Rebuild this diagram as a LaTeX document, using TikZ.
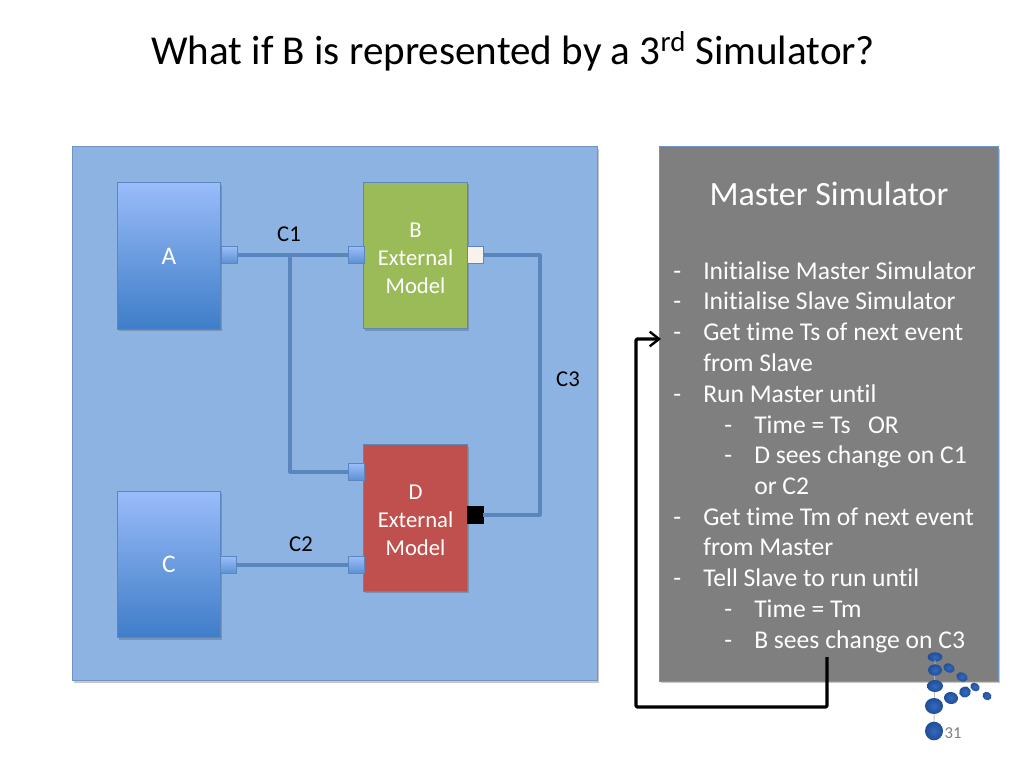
\documentclass[tikz,border=0pt]{standalone}
\usepackage{fontspec}
\setmainfont{Carlito}[Ligatures=NoCommon]
\usetikzlibrary{shadows,arrows.meta,shapes.geometric}
\definecolor{panelblue}{HTML}{8DB3E2}
\definecolor{paneledge}{HTML}{6F94C4}
\definecolor{wirecol}{HTML}{5A86BE}
\definecolor{greypanel}{HTML}{7F7F7F}
\definecolor{greenbox}{HTML}{9BBB59}
\definecolor{redbox}{HTML}{C0504D}
\definecolor{boxedge}{HTML}{5B87BF}
\definecolor{blueA}{HTML}{9ABCFA}
\definecolor{blueM}{HTML}{6B9CDF}
\definecolor{blueB}{HTML}{3F7DC9}
\definecolor{ballhi}{HTML}{3569BC}
\definecolor{balllo}{HTML}{1F4E98}
\tikzset{
  softshadow/.style={drop shadow={shadow xshift=1pt,shadow yshift=-1.6pt,opacity=.3,fill=black!70}},
  panel/.style={draw=paneledge,line width=.8pt,inner sep=0pt,softshadow},
  block/.style={draw=boxedge,line width=.8pt,inner sep=0pt,softshadow,minimum width=77.5pt,minimum height=110pt,text=white,font=\fontsize{17}{21}\selectfont,align=center},
  bluegrad/.style={top color=blueA,bottom color=blueB,middle color=blueM,font=\fontsize{19}{21}\selectfont},
  portbox/.style={draw=boxedge,line width=.6pt,inner sep=0pt,minimum width=12pt,minimum height=12.6pt,top color=blueA,bottom color=blueB!85!white},
  wire/.style={draw=wirecol,line width=2.3pt,line join=round},
  label/.style={inner sep=0pt,text=black,font=\fontsize{17}{20}\selectfont},
  item/.style={inner sep=0pt,anchor=base west,text=white,font=\fontsize{19.2}{22}\selectfont},
  ball/.style={inner color=ballhi,outer color=balllo,draw=none,shape=ellipse,inner sep=0pt},
  feedback/.style={draw=black,line width=2.5pt,line join=round,rounded corners=1pt,-{Straight Barb[length=7pt,width=11pt,line width=1.8pt]}}
}
\begin{document}
\begin{tikzpicture}[x=.75pt,y=-.75pt]
\useasboundingbox (0,0) rectangle (1024,768);
\fill[white] (0,0) rectangle (1024,768);
\node[anchor=base west,inner sep=0pt,text=black,font=\fontsize{30.8}{34}\selectfont] (title) at (151,64) {What if B is represented by a 3\textsuperscript{rd} Simulator?};
\node[panel,fill=panelblue,minimum width=393.8pt,minimum height=400.5pt] (blue) at (335,413.5) {};
\node[panel,fill=greypanel,minimum width=254pt,minimum height=401pt] (master) at (829,414) {};

\node[block,bluegrad] (A) at (169,256) {A};
\node[block,bluegrad] (C) at (169,564.5) {C};
\node[block,fill=greenbox] (B) at (415.5,255.5) {\rule{0pt}{15pt}B\\External\\Model};
\node[block,fill=redbox] (D) at (415.5,518) {\rule{0pt}{15pt}D\\External\\Model};

\node[portbox] (pA) at (229,255) {};
\node[portbox] (pBl) at (356,255) {};
\node[portbox,top color=white!90!brown,bottom color=white!90!brown] (pBr) at (475,255) {};
\node[portbox] (pDt) at (356,472) {};
\node[portbox] (pDb) at (356,565) {};
\node[portbox,draw=black,top color=black,bottom color=black] (pDr) at (475,515) {};
\node[portbox] (pC) at (228,565) {};
\coordinate (j) at (290,255);

\draw[wire] (pA) -- (pBl);
\draw[wire] (j) |- (pDt);
\draw[wire] (pC) -- (pDb);
\draw[wire] (pBr) -| (540,385) |- (pDr);

\node[label] (c1) at (289,234) {C1};
\node[label] (c2) at (301,544) {C2};
\node[label] (c3) at (568,379) {C3};

\node[inner sep=0pt,text=white,font=\fontsize{25.5}{28}\selectfont] (mt) at (829,194) {Master Simulator};

\foreach \n/\yy/\dx/\tx/\t in {
 a/279/673/703/Initialise Master Simulator,
 b/309/673/703/Initialise Slave Simulator,
 c/340/673/703/Get time Ts of next event,
 e/402/673/703/Run Master until,
 f/433/724/754/Time = Ts\ \ \ OR,
 g/463/724/754/D sees change on C1,
 i/525/673/703/Get time Tm of next event,
 k/586/673/703/Tell Slave to run until,
 l/617/724/754/Time = Tm,
 m/648/724/754/B sees change on C3}{
  \node[item] (d\n) at (\dx,\yy) {-};
  \node[item] (t\n) at (\tx,\yy) {\t};
}
\node[item] (td) at (703,371) {from Slave};
\node[item] (th) at (754,494) {or C2};
\node[item] (tj) at (703,555) {from Master};

\coordinate (fbstart) at (827,657);
\coordinate (fbend) at (661,339);
\draw[feedback] (fbstart) -- (827,707) -- (636,707) -- (636,339) -- (fbend);

\node[ball,minimum width=11pt,minimum height=7pt] (b1) at (935,657) {};
\draw[black!25,line width=.6pt] (935,660) -- (934,725);
\node[ball,minimum width=10.5pt,minimum height=8.5pt] (b2) at (935,670) {};
\node[ball,minimum width=9pt,minimum height=6.5pt,rotate=-25] (b3) at (949,668) {};
\node[ball,minimum width=9pt,minimum height=6.5pt,rotate=-25] (b4) at (962,677) {};
\node[ball,minimum width=12pt,minimum height=9pt] (b5) at (935,686) {};
\node[ball,minimum width=7.5pt,minimum height=6pt,rotate=-35] (b6) at (975,687) {};
\node[ball,minimum width=9pt,minimum height=8pt,rotate=20] (b7) at (965,692) {};
\node[ball,minimum width=10.5pt,minimum height=9pt,rotate=-10] (b8) at (951,698) {};
\node[ball,minimum width=7pt,minimum height=6pt,rotate=-30] (b9) at (987,696) {};
\node[ball,minimum width=13.5pt,minimum height=12pt] (b10) at (934,706) {};
\node[ball,minimum width=13.5pt,minimum height=14pt] (b11) at (934,731) {};
\node[inner sep=0pt,text=black!50,font=\fontsize{12.5}{15}\selectfont] (num) at (953,733) {31};
\end{tikzpicture}
\end{document}
